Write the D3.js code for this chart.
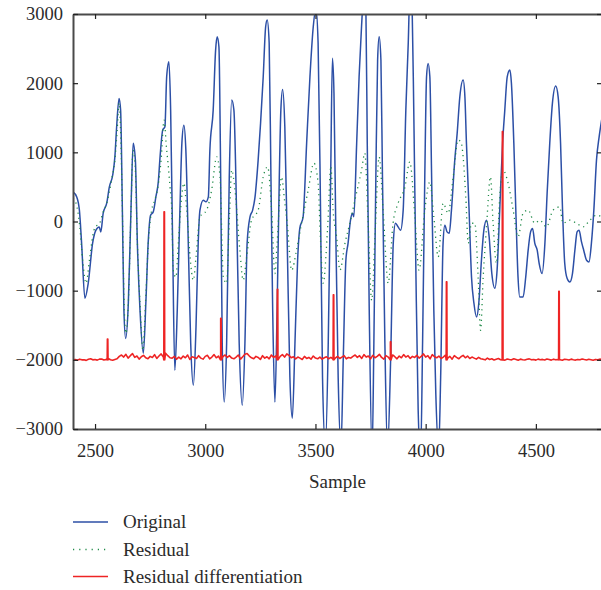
<!DOCTYPE html>
<html>
<head>
<meta charset="utf-8">
<script src="https://cdn.jsdelivr.net/npm/d3@7"></script>
<style>
  body { margin: 0; background: #fff; }
  text { font-family: "Liberation Serif", "Times New Roman", serif; fill: #2b2b2b; }
</style>
</head>
<body>
<svg id="chart" width="601" height="590"></svg>
<script>
// original signal as [sample, value]
const original = [[2400,430],[2417,355],[2429,164],[2439,-313],[2454,-1110],[2469,-894],[2489,-313],[2504,-125],[2519,-78],[2526,-150],[2537,120],[2553,265],[2565,500],[2580,670],[2590,935],[2598,1370],[2609,1780],[2616,1610],[2624,164],[2631,-1283],[2639,-1690],[2651,-1182],[2663,164],[2673,1130],[2683,887],[2692,-313],[2704,-1283],[2719,-1906],[2731,-1139],[2741,-313],[2752,91],[2764,139],[2776,356],[2787,573],[2795,935],[2807,1321],[2817,1369],[2825,2092],[2835,2309],[2843,1610],[2852,-313],[2862,-2150],[2873,-1283],[2885,164],[2894,1133],[2903,1393],[2912,1032],[2923,-313],[2934,-1760],[2946,-2368],[2958,-1530],[2968,-313],[2976,164],[2991,309],[3003,284],[3014,356],[3021,1032],[3036,1610],[3047,2478],[3054,2671],[3062,2526],[3070,645],[3077,-1760],[3086,-2610],[3097,-1760],[3109,645],[3120,1755],[3130,1610],[3142,164],[3154,-1760],[3168,-2658],[3180,-1760],[3190,-313],[3203,67],[3215,164],[3225,333],[3240,887],[3251,1422],[3263,2092],[3274,2816],[3281,2913],[3290,2580],[3298,645],[3306,-1283],[3316,-2610],[3326,-1283],[3336,645],[3343,1610],[3351,1910],[3361,1369],[3372,-313],[3384,-2249],[3395,-2846],[3407,-1760],[3419,-560],[3429,-97],[3444,67],[3460,1133],[3475,2092],[3490,2816],[3502,3080],[3512,2580],[3523,164],[3532,-2249],[3545,-3250],[3558,-1760],[3569,645],[3577,2360],[3584,1855],[3593,-313],[3603,-2249],[3616,-3250],[3626,-2007],[3638,-560],[3648,-313],[3659,19],[3668,120],[3674,67],[3687,1133],[3698,2092],[3709,2816],[3722,3400],[3729,3014],[3735,1133],[3744,-1283],[3757,-3350],[3765,-1760],[3774,645],[3782,2335],[3789,2671],[3797,2335],[3804,645],[3815,-1760],[3827,-3300],[3841,-2007],[3853,-313],[3863,-25],[3875,-78],[3886,-126],[3898,164],[3910,1610],[3921,2580],[3930,3500],[3939,3014],[3946,1610],[3956,-802],[3966,-2730],[3977,-3400],[3986,-1760],[3996,645],[4004,2092],[4011,2286],[4019,2092],[4027,645],[4037,-1283],[4046,-2489],[4059,-3300],[4068,-2249],[4079,-313],[4087,-54],[4097,-150],[4107,-169],[4117,164],[4132,887],[4143,1278],[4155,1803],[4170,2045],[4178,1803],[4185,1133],[4197,164],[4208,-802],[4219,-1182],[4231,-1380],[4241,-1182],[4253,-560],[4264,-126],[4276,19],[4288,-223],[4300,-748],[4314,-965],[4324,-705],[4336,164],[4349,1133],[4359,1610],[4370,2092],[4382,2189],[4389,2001],[4400,1133],[4409,164],[4419,-802],[4427,-1091],[4442,-1091],[4454,-802],[4465,-415],[4476,-150],[4485,-101],[4495,-313],[4506,-415],[4515,-608],[4528,-752],[4541,-313],[4551,405],[4563,1133],[4575,1707],[4590,1958],[4601,1803],[4612,1133],[4621,164],[4631,-608],[4642,-825],[4654,-874],[4666,-752],[4677,-415],[4687,-150],[4696,-126],[4707,-295],[4717,-415],[4730,-560],[4741,-585],[4752,-313],[4763,164],[4775,887],[4787,1224],[4800,1500]];

// residual (dotted green)
const residual = [[2400,337],[2415,250],[2430,-50],[2445,-600],[2459,-893],[2475,-550],[2490,-200],[2500,-82],[2520,-30],[2535,120],[2553,265],[2575,600],[2590,887],[2600,1300],[2609,1712],[2617,1200],[2625,0],[2632,-1200],[2640,-1616],[2652,-1100],[2663,150],[2672,1032],[2682,800],[2692,-300],[2705,-1250],[2717,-1861],[2730,-1100],[2742,-300],[2757,164],[2770,300],[2785,497],[2800,900],[2813,1466],[2825,1032],[2831,846],[2840,500],[2848,164],[2855,-705],[2867,-806],[2878,-313],[2893,356],[2903,554],[2916,164],[2931,-512],[2946,-849],[2958,-512],[2976,67],[3006,164],[3029,453],[3052,935],[3067,645],[3082,-802],[3097,-893],[3110,100],[3120,742],[3135,453],[3157,-415],[3172,-849],[3188,-512],[3210,19],[3240,164],[3263,645],[3283,790],[3301,164],[3316,-752],[3326,-313],[3346,645],[3360,300],[3372,-25],[3392,-705],[3414,-415],[3437,-25],[3467,453],[3493,844],[3512,554],[3522,-200],[3535,-893],[3555,-100],[3570,800],[3580,164],[3596,-223],[3611,-705],[3634,-313],[3656,-25],[3679,308],[3709,742],[3724,988],[3739,-25],[3755,-1139],[3770,-223],[3789,935],[3807,164],[3830,-893],[3852,-25],[3875,265],[3906,497],[3928,862],[3951,67],[3970,-705],[3996,164],[4019,573],[4037,67],[4057,-512],[4079,265],[4102,120],[4125,645],[4147,1176],[4160,1150],[4170,935],[4182,356],[4193,-313],[4208,-25],[4223,-25],[4238,-802],[4249,-1573],[4261,-802],[4276,-78],[4294,645],[4306,-25],[4321,-608],[4336,356],[4351,742],[4374,554],[4397,164],[4419,-223],[4442,120],[4465,164],[4495,-25],[4518,19],[4548,-78],[4578,164],[4608,211],[4623,-25],[4654,19],[4684,-25],[4714,-78],[4745,19],[4775,91],[4800,67]];

// residual differentiation: noise every 10 samples from 2400
const diffStart = 2400, diffStep = 10;
const diffNoise = [
  -2000,-1995,-2005,-1990,-2000,-1998,-2008,-1992,-1985,-2000,-1996,-2004,-1990,-1988,-2002,-1994,-1980,-1998,-2006,-1995,
  -1985,-1950,-1930,-1960,-1920,-1975,-1940,-1910,-1965,-1945,-1990,-1955,-1935,-1970,-1985,-1950,-1965,-1925,-1980,-1945,-1915,-1960,-1905,-1940,-1970,
  -1975,-1950,-1990,-1960,-1985,-1945,-1970,-1930,-1995,-1955,-1965,-1980,-1940,-1975,-1990,-1950,-1935,-1985,-1960,-1925,-1970,-1945,-1990,-1955,-1930,-1965,
  -1940,-1975,-1985,-1960,-1930,-1990,-1955,-1920,-1910,-1945,-1970,-1985,-1950,-1965,-1995,-1940,-1975,-1955,-1985,-1930,-1965,-1945,-1990,-1950,-1925,-1960,-1915,-1935,-1970,-1955,
  -1985,-1960,-1975,-1995,-1950,-1980,-1965,-1990,-1945,-1975,-1985,-1960,-1990,-1970,-1955,-1985,-1965,-1990,-1975,-1950,-1980,-1960,-1940,-1985,-1965,
  -1975,-1950,-1930,-1965,-1940,-1980,-1925,-1960,-1945,-1985,-1935,-1970,-1950,-1920,-1965,-1990,-1940,-1960,-1975,-1930,-1955,-1985,-1945,-1970,-1925,-1960,-1940,-1980,-1950,-1965,
  -1935,-1975,-1950,-1915,-1960,-1940,-1985,-1925,-1955,-1970,-1945,-1980,-1960,-1930,-1975,-1950,-1990,-1940,-1965,-1985,-1955,-1935,-1970,-1945,-1980,-1960,-1975,-1990,-1965,-1985,
  -1990,-2000,-1975,-1995,-1985,-2002,-1990,-1980,-1998,-1992,-2004,-1988,-1996,-2000,-1985,-1994,-2006,-1990,-1998,-2002,-1992,-1986,-2000,-1995,-2004,-1990,-1998,-1994,-2002,-1988,
  -1996,-2004,-1990,-2000,-1994,-1998,-2006,-1992,-1996,-2002,-1990,-1998,-2004,-1994,-2000,-1988,-1996,-2002,-1992,-1998,-2006,-1994,-2000,-1990,-1998,-2004
];
const diffBase = -2000;
const spikeSample = [2557, 2814, 3071, 3328, 3582, 3841, 4095, 4349, 4605];
const spikeValue  = [-1700, 140, -1400, -980, -1060, -1740, -870, 1300, -1010];

const xTicks = [2500, 3000, 3500, 4000, 4500];
const yTicks = [-3000, -2000, -1000, 0, 1000, 2000, 3000];
const legendLabels = ["Original", "Residual", "Residual differentiation"];

const colBlue = "#2c4fa6", colGreen = "#1f8a48", colRed = "#ee2424";

const margin = {top: 14, left: 73};
const width = 529, height = 415;

const svg = d3.select("#chart");
const g = svg.append("g")
  .attr("transform", "translate(" + margin.left + "," + margin.top + ")");

const x = d3.scaleLinear().domain([2400, 4800]).range([0, width]);
const y = d3.scaleLinear().domain([-3000, 3000]).range([height, 0]);

g.append("clipPath").attr("id", "plotclip")
  .append("rect").attr("width", width).attr("height", height);

const plot = g.append("g").attr("clip-path", "url(#plotclip)");

// red series: noise plus the spikes (each spike is a narrow up-and-down)
let diffPts = diffNoise.map((v, i) => [diffStart + i * diffStep, v]);
spikeSample.forEach((s, i) => {
  diffPts.push([s - 2, diffBase], [s - 1, spikeValue[i]], [s + 1, spikeValue[i]], [s + 2, diffBase]);
});
diffPts.sort((a, b) => a[0] - b[0]);

const smooth = d3.line()
  .x(d => x(d[0])).y(d => y(d[1]))
  .curve(d3.curveMonotoneX);
const straight = d3.line()
  .x(d => x(d[0])).y(d => y(d[1]));

plot.append("path").datum(original)
  .attr("fill", "none").attr("stroke", colBlue).attr("stroke-width", 1.5)
  .attr("d", smooth);

plot.append("path").datum(residual)
  .attr("fill", "none").attr("stroke", colGreen).attr("stroke-width", 1.3)
  .attr("stroke-dasharray", "1.2,4")
  .attr("d", smooth);

// red drawn last, it sits over the other two
plot.append("path").datum(diffPts)
  .attr("fill", "none").attr("stroke", colRed).attr("stroke-width", 1.6)
  .attr("stroke-linejoin", "round")
  .attr("d", straight);

// axes, ticks inward on all four sides
const fmt = d => d < 0 ? "\u2212" + Math.abs(d) : String(d);

const xb = g.append("g").attr("transform", "translate(0," + height + ")")
  .call(d3.axisBottom(x).tickValues(xTicks).tickSizeInner(-5).tickSizeOuter(0).tickPadding(15).tickFormat(fmt));
const xt = g.append("g")
  .call(d3.axisTop(x).tickValues(xTicks).tickSizeInner(-5).tickSizeOuter(0).tickFormat(""));
const yl = g.append("g")
  .call(d3.axisLeft(y).tickValues(yTicks).tickSizeInner(-5).tickSizeOuter(0).tickPadding(10).tickFormat(fmt));
const yr = g.append("g").attr("transform", "translate(" + width + ",0)")
  .call(d3.axisRight(y).tickValues(yTicks).tickSizeInner(-5).tickSizeOuter(0).tickFormat(""));

[xb, xt, yl, yr].forEach(a => {
  a.select(".domain").attr("stroke", "#4a4a4a").attr("stroke-width", 2);
  a.selectAll(".tick line").attr("stroke", "#222").attr("stroke-width", 1.2);
  a.selectAll(".tick text").style("font-size", "18.5px").attr("fill", "#2b2b2b")
    .style("font-family", '"Liberation Serif", serif');
});

g.append("text")
  .attr("x", x(3600)).attr("y", height + 59)
  .attr("text-anchor", "middle")
  .style("font-size", "19px")
  .text("Sample");

// legend
const legend = svg.append("g").attr("transform", "translate(73,522)");
const styles = [
  {c: colBlue, dash: null},
  {c: colGreen, dash: "1.2,5"},
  {c: colRed, dash: null}
];
const rowY = [0, 27.5, 54.5];
legendLabels.forEach((lab, i) => {
  legend.append("line")
    .attr("x1", 0).attr("x2", 35).attr("y1", rowY[i]).attr("y2", rowY[i])
    .attr("stroke", styles[i].c).attr("stroke-width", 1.4)
    .attr("stroke-dasharray", styles[i].dash);
  legend.append("text")
    .attr("x", 50).attr("y", rowY[i]).attr("dy", "0.33em")
    .style("font-size", "19px")
    .text(lab);
});
</script>
</body>
</html>
